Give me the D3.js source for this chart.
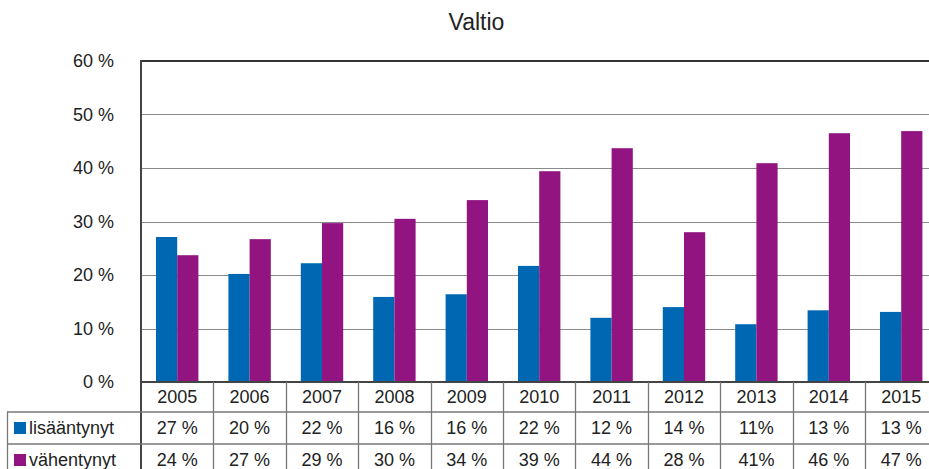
<!DOCTYPE html>
<html><head><meta charset="utf-8">
<script src="https://cdn.jsdelivr.net/npm/d3@7"></script>
<style>body{margin:0;background:#fff}svg{display:block}text{font-family:"Liberation Sans",Arial,Helvetica,sans-serif;fill:#222}</style>
</head><body>
<script>
const years = ["2005","2006","2007","2008","2009","2010","2011","2012","2013","2014","2015"];
const seriesNames = ["lisääntynyt","vähentynyt"];
const lisaantynyt = [27.1,20.2,22.2,15.9,16.4,21.7,12.0,14.0,10.8,13.4,13.1];
const vahentynyt = [23.7,26.7,29.7,30.5,34.0,39.4,43.7,28.0,40.9,46.5,46.9];
const lisaantynytLabels = ["27 %","20 %","22 %","16 %","16 %","22 %","12 %","14 %","11%","13 %","13 %"];
const vahentynytLabels = ["24 %","27 %","29 %","30 %","34 %","39 %","44 %","28 %","41%","46 %","47 %"];
const yTicks = [0,10,20,30,40,50,60];
const colors = ["#0068b2","#921480"];

(function(){
const W=929,H=469;
const svg=d3.select("body").append("svg").attr("width",W).attr("height",H);
const pLeft=141, pTop=61, pBottom=382, bw=72.4;
const x=d3.scaleBand().domain(years).range([pLeft,pLeft+bw*years.length]).padding(0);
const inner=d3.scaleBand().domain(seriesNames).range([15,x.bandwidth()-15]).padding(0);
const y=d3.scaleLinear().domain([0,60]).range([pBottom,pTop]);

svg.append("text").attr("x",476.5).attr("y",30).attr("text-anchor","middle").attr("font-size",23).text("Valtio");

svg.append("g").selectAll("line").data(yTicks.filter(t=>t>0&&t<60)).join("line")
  .attr("x1",pLeft).attr("x2",W).attr("y1",d=>Math.round(y(d))+0.5).attr("y2",d=>Math.round(y(d))+0.5)
  .attr("stroke","#8a8a8a").attr("stroke-width",1);
svg.append("line").attr("x1",pLeft).attr("x2",W).attr("y1",y(60)).attr("y2",y(60)).attr("stroke","#333").attr("stroke-width",2);

svg.append("g").selectAll("text").data(yTicks).join("text")
  .attr("x",114).attr("y",d=>y(d)+6).attr("text-anchor","end").attr("font-size",18).text(d=>d+" %");

const data=[lisaantynyt,vahentynyt];
data.forEach((vals,si)=>{
  svg.append("g").selectAll("rect").data(vals).join("rect")
    .attr("x",(d,i)=>x(years[i])+inner(seriesNames[si]))
    .attr("width",inner.bandwidth())
    .attr("y",d=>y(d)).attr("height",d=>y(0)-y(d))
    .attr("fill",colors[si]);
});

svg.append("line").attr("x1",pLeft).attr("x2",W).attr("y1",pBottom).attr("y2",pBottom).attr("stroke","#444").attr("stroke-width",2);
svg.append("line").attr("x1",pLeft).attr("x2",pLeft).attr("y1",pTop-1).attr("y2",H).attr("stroke","#444").attr("stroke-width",2);

const rowY=[382,412,444,476];
const tg=svg.append("g");
tg.selectAll("line.v").data(years).join("line")
  .attr("x1",(d,i)=>Math.round(pLeft+bw*(i+1))+0.5).attr("x2",(d,i)=>Math.round(pLeft+bw*(i+1))+0.5)
  .attr("y1",pBottom).attr("y2",H).attr("stroke","#777").attr("stroke-width",1.3);
[412,444].forEach(yy=>tg.append("line").attr("x1",7).attr("x2",W).attr("y1",yy).attr("y2",yy).attr("stroke","#777").attr("stroke-width",1.3));
tg.append("line").attr("x1",7.5).attr("x2",7.5).attr("y1",412).attr("y2",H).attr("stroke","#777").attr("stroke-width",1.3);

tg.selectAll("text.yr").data(years).join("text")
  .attr("x",d=>x(d)+x.bandwidth()/2).attr("y",403).attr("text-anchor","middle").attr("font-size",18).text(d=>d);
[lisaantynytLabels,vahentynytLabels].forEach((labs,si)=>{
  const cy=(rowY[si+1]+rowY[si+2])/2;
  tg.selectAll("text.r"+si).data(labs).join("text")
    .attr("x",(d,i)=>x(years[i])+x.bandwidth()/2).attr("y",cy+6).attr("text-anchor","middle").attr("font-size",18).text(d=>d);
  tg.append("rect").attr("x",14).attr("y",cy-6).attr("width",12).attr("height",12).attr("fill",colors[si]);
  tg.append("text").attr("x",29).attr("y",cy+6).attr("font-size",18).text(seriesNames[si]);
});
})();
</script>
</body></html>
